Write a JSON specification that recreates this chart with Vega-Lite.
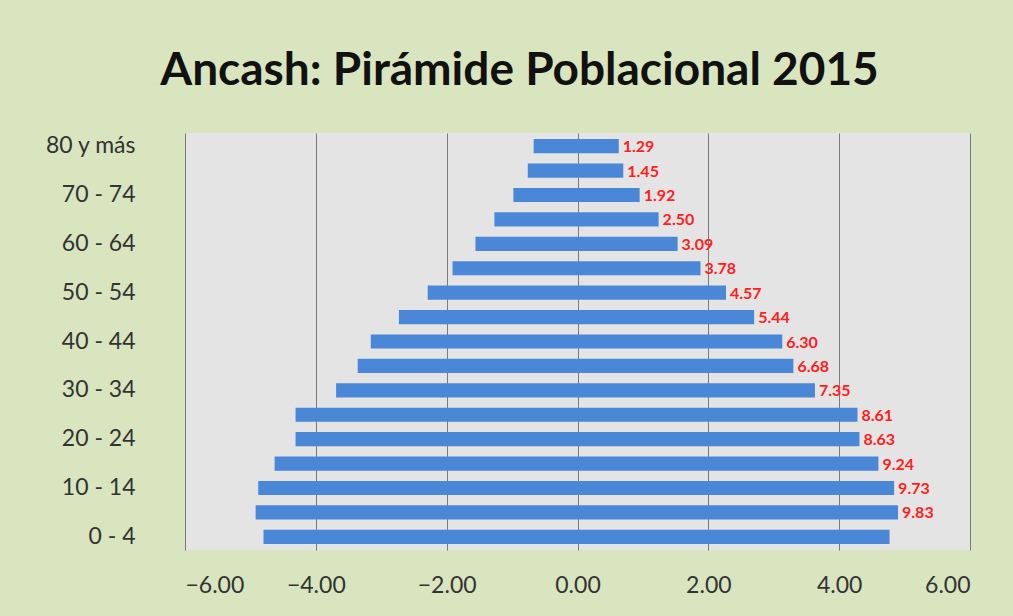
{
  "$schema": "https://vega.github.io/schema/vega-lite/v6.json",
  "autosize": {"type": "none"},
  "width": 785,
  "height": 417,
  "padding": {"left": 185, "top": 133, "right": 43, "bottom": 66},
  "background": "#d9e5bf",
  "title": {
    "text": "Ancash: Pirámide Poblacional 2015",
    "font": "Lato",
    "fontSize": 46,
    "fontWeight": "bold",
    "color": "#111111",
    "anchor": "middle",
    "dx": -58,
    "offset": 38
  },
  "data": {
    "values": [
      {"edad": "80 y más", "hombres": -0.67, "mujeres": 0.63, "total": "1.29"},
      {"edad": "75 - 79", "hombres": -0.76, "mujeres": 0.70, "total": "1.45"},
      {"edad": "70 - 74", "hombres": -0.98, "mujeres": 0.95, "total": "1.92"},
      {"edad": "65 - 69", "hombres": -1.27, "mujeres": 1.24, "total": "2.50"},
      {"edad": "60 - 64", "hombres": -1.56, "mujeres": 1.53, "total": "3.09"},
      {"edad": "55 - 59", "hombres": -1.91, "mujeres": 1.88, "total": "3.78"},
      {"edad": "50 - 54", "hombres": -2.29, "mujeres": 2.27, "total": "4.57"},
      {"edad": "45 - 49", "hombres": -2.73, "mujeres": 2.70, "total": "5.44"},
      {"edad": "40 - 44", "hombres": -3.16, "mujeres": 3.13, "total": "6.30"},
      {"edad": "35 - 39", "hombres": -3.36, "mujeres": 3.30, "total": "6.68"},
      {"edad": "30 - 34", "hombres": -3.69, "mujeres": 3.63, "total": "7.35"},
      {"edad": "25 - 29", "hombres": -4.31, "mujeres": 4.28, "total": "8.61"},
      {"edad": "20 - 24", "hombres": -4.31, "mujeres": 4.31, "total": "8.63"},
      {"edad": "15 - 19", "hombres": -4.63, "mujeres": 4.60, "total": "9.24"},
      {"edad": "10 - 14", "hombres": -4.88, "mujeres": 4.84, "total": "9.73"},
      {"edad": "5 - 9", "hombres": -4.92, "mujeres": 4.90, "total": "9.83"},
      {"edad": "0 - 4", "hombres": -4.80, "mujeres": 4.77, "total": ""}
    ]
  },
  "encoding": {
    "y": {
      "field": "edad",
      "type": "nominal",
      "sort": ["80 y más", "75 - 79", "70 - 74", "65 - 69", "60 - 64", "55 - 59", "50 - 54", "45 - 49", "40 - 44", "35 - 39", "30 - 34", "25 - 29", "20 - 24", "15 - 19", "10 - 14", "5 - 9", "0 - 4"],
      "scale": {"paddingInner": 0.42, "paddingOuter": 0.25},
      "axis": {
        "title": null,
        "values": ["80 y más", "70 - 74", "60 - 64", "50 - 54", "40 - 44", "30 - 34", "20 - 24", "10 - 14", "0 - 4"],
        "domain": false,
        "ticks": false,
        "grid": false,
        "labelFont": "Lato",
        "labelFontSize": 23,
        "labelColor": "#333333",
        "labelPadding": 50
      }
    }
  },
  "layer": [
    {
      "mark": {"type": "bar", "color": "#4a87d6"},
      "encoding": {
        "x": {
          "field": "hombres",
          "type": "quantitative",
          "scale": {"domain": [-6, 6], "nice": false},
          "axis": {
            "title": null,
            "values": [-6, -4, -2, 0, 2, 4, 6],
            "format": ".2f",
            "domain": false,
            "ticks": false,
            "grid": true,
            "gridColor": "#7a7a7a",
            "gridWidth": 1,
            "labelFont": "Lato",
            "labelFontSize": 23,
            "labelColor": "#333333",
            "labelPadding": 24
          }
        },
        "x2": {"field": "mujeres"}
      }
    },
    {
      "mark": {"type": "text", "align": "left", "baseline": "middle", "dx": 4, "dy": 1, "color": "#ff2020", "font": "Lato", "fontSize": 16, "fontWeight": "bold"},
      "encoding": {
        "x": {"field": "mujeres", "type": "quantitative"},
        "text": {"field": "total", "type": "nominal"}
      }
    }
  ],
  "config": {
    "view": {"fill": "#e4e4e4", "stroke": null}
  }
}
